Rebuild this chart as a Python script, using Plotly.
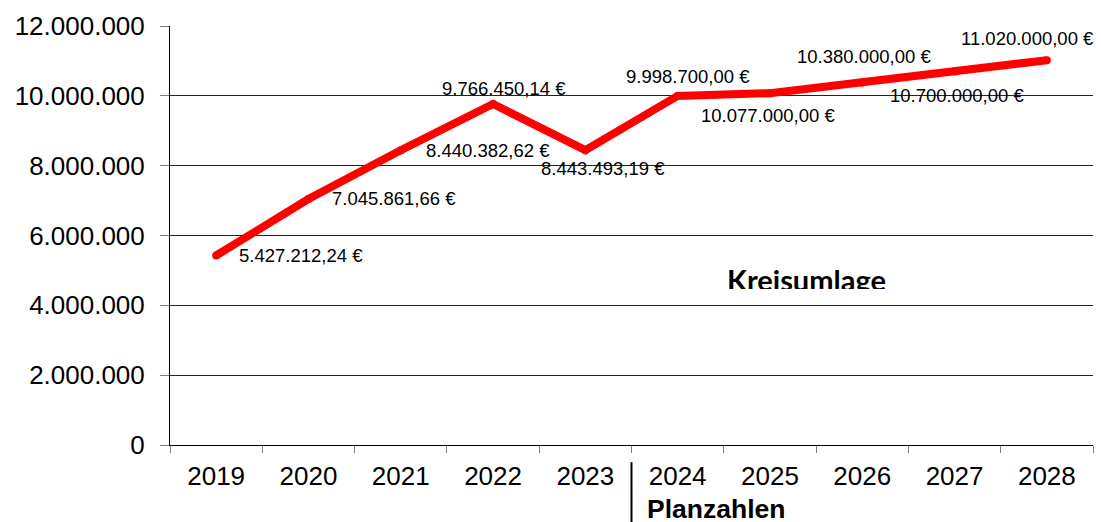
import plotly.graph_objects as go

years = ["2019", "2020", "2021", "2022", "2023", "2024", "2025", "2026", "2027", "2028"]
values = [5427212.24, 7045861.66, 8440382.62, 9766450.14, 8443493.19,
          9998700.00, 10077000.00, 10380000.00, 10700000.00, 11020000.00]
labels = ["5.427.212,24 €", "7.045.861,66 €", "8.440.382,62 €", "9.766.450,14 €",
          "8.443.493,19 €", "9.998.700,00 €", "10.077.000,00 €", "10.380.000,00 €",
          "10.700.000,00 €", "11.020.000,00 €"]
y_ticks = [0, 2000000, 4000000, 6000000, 8000000, 10000000, 12000000]

# label placement (style): xanchor, xshift, yshift
placement = [("left", 21, 0), ("left", 22, 0), ("left", 23, 0), ("center", 11, 15),
             ("center", 18, -18), ("center", 10, 19), ("center", -2, -22),
             ("center", 2, 26), ("center", 2, -24), ("center", -19, 22)]

FONT = "Liberation Sans, Arial, sans-serif"

fig = go.Figure()
fig.add_trace(go.Scatter(
    x=years, y=values, mode="lines+markers",
    line=dict(color="#FF0000", width=8),
    marker=dict(color="#FF0000", size=8, line=dict(width=0)),
    hoverinfo="skip", showlegend=False,
))

annotations = []
for i, (v, t, (xa, xs, ys)) in enumerate(zip(values, labels, placement)):
    annotations.append(dict(
        x=i, y=v, xref="x", yref="y", text=t, showarrow=False,
        xanchor=xa, yanchor="middle", xshift=xs, yshift=ys,
        font=dict(family=FONT, size=18.5, color="#000000"),
    ))

annotations.append(dict(
    x=4.5, y=-0.112, xref="x", yref="paper", text="<b>Planzahlen</b>",
    showarrow=False, xanchor="left", yanchor="top", xshift=13,
    font=dict(family=FONT, size=26.5, color="#000000"),
))
annotations.append(dict(
    x=0.69, y=(445 - 279) / 419, xref="paper", yref="paper", text="<b>Kreisumlage</b>",
    showarrow=False, xanchor="center", yanchor="middle",
    font=dict(family="Lato, Open Sans, sans-serif", size=29, color="#000000"),
))
# white strip that clips the bottom of the title, as in the original
annotations.append(dict(
    x=0.69, y=(445 - 289) / 419, xref="paper", yref="paper", text="",
    showarrow=False, xanchor="center", yanchor="top", width=200, height=13,
    bgcolor="#FFFFFF", borderpad=0, borderwidth=0,
))

fig.update_layout(
    width=1101, height=522,
    margin=dict(l=170, r=8, t=26, b=77),
    paper_bgcolor="white", plot_bgcolor="white",
    separators=",.",
    annotations=annotations,
    shapes=[dict(type="line", xref="x", yref="paper", x0=4.5, x1=4.5,
                 y0=-0.041, y1=-0.2, line=dict(color="#000000", width=2))],
)
fig.update_xaxes(
    type="category", range=[-0.5, 9.5], tickson="boundaries",
    showline=True, linecolor="#000000", linewidth=1,
    ticks="outside", ticklen=7, tickcolor="#808080",
    showgrid=False, zeroline=False, ticklabelstandoff=8,
    tickfont=dict(family=FONT, size=26, color="#000000"),
)
fig.update_yaxes(
    range=[0, 12000000], tickvals=y_ticks, tickformat=",d",
    showline=True, linecolor="#000000", linewidth=1,
    ticks="outside", ticklen=9, tickcolor="#808080",
    showgrid=True, gridcolor="#222222", gridwidth=1, zeroline=False,
    ticklabelstandoff=10,
    tickfont=dict(family=FONT, size=26, color="#000000"),
)

fig.write_html("out.html", config={"displayModeBar": False},
               post_script="document.body.style.margin='0';document.body.style.overflow='hidden';")
